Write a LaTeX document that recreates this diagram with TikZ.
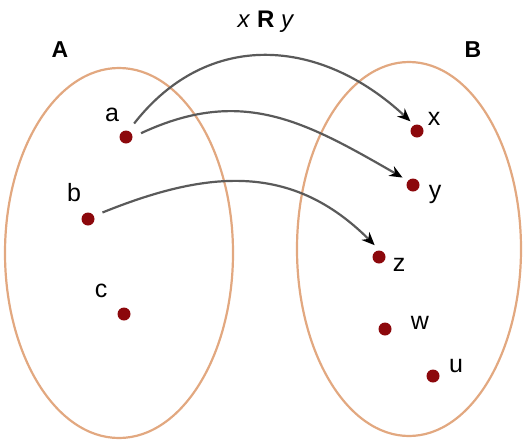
\documentclass[tikz,border=0pt]{standalone}
\usepackage{fontspec}
\setmainfont{Liberation Sans}
\usepackage{tikz}
\usetikzlibrary{arrows.meta,positioning,shapes.geometric}

\definecolor{setedge}{RGB}{226,168,128}
\definecolor{elemred}{RGB}{140,8,12}
\definecolor{arrgray}{RGB}{90,90,90}

\begin{document}
\begin{tikzpicture}[
  x=0.5pt, y=0.5pt,
  set/.style={draw=setedge, line width=1.1pt, ellipse, minimum width=114pt, minimum height=185pt, inner sep=0pt},
  elem/.style={circle, fill=elemred, minimum size=6.5pt, inner sep=0pt},
  lbl/.style={font=\fontsize{12.5}{15}\selectfont, inner sep=0pt},
  setname/.style={font=\fontsize{11.5}{13}\selectfont\bfseries, inner sep=0pt},
  rel/.style={font=\fontsize{12}{14}\selectfont, inner sep=0pt},
  arr/.style={-{Stealth[length=6.5pt,width=5.5pt,black]}, draw=arrgray, line width=1.1pt}
]
  \useasboundingbox (0,0) rectangle (525,441);

  % the two sets
  \node[set] (setA) at (119,188) {};
  \node[set, minimum width=112pt, minimum height=187pt] (setB) at (409,192) {};
  \node[setname] (nameA) at (60,391) {A};
  \node[setname] (nameB) at (473,391) {B};
  \node[rel] (xry) at (266,419) {\textit{x} \textbf{R} \textit{y}};

  % elements of A
  \node[elem] (da) at (126,304) {};
  \node[elem] (db) at (88,222) {};
  \node[elem] (dc) at (124,127) {};
  \node[lbl] (la) at (112,326) {a};
  \node[lbl] (lb) at (74,248) {b};
  \node[lbl] (lc) at (101,150) {c};

  % elements of B
  \node[elem] (dx) at (417,310) {};
  \node[elem] (dy) at (413,256) {};
  \node[elem] (dz) at (379,184) {};
  \node[elem] (dw) at (385,112) {};
  \node[elem] (du) at (433,65) {};
  \node[lbl] (lx) at (434,322) {x};
  \node[lbl] (ly) at (435,247) {y};
  \node[lbl] (lz) at (399,176) {z};
  \node[lbl] (lw) at (420,118) {w};
  \node[lbl] (lu) at (456,75) {u};

  % the relation
  \draw[arr, shorten <=4.5pt, shorten >=2.5pt] (da.68) to[out=52, in=137, looseness=1.15] (dx.115);
  \draw[arr, shorten <=4.5pt, shorten >=3pt] (da.east) to[out=25, in=150, looseness=1.1] (dy.140);
  \draw[arr, shorten <=4.5pt, shorten >=3.5pt] (db.27) to[out=22, in=135, looseness=1.1] (dz.85);

\end{tikzpicture}
\end{document}
